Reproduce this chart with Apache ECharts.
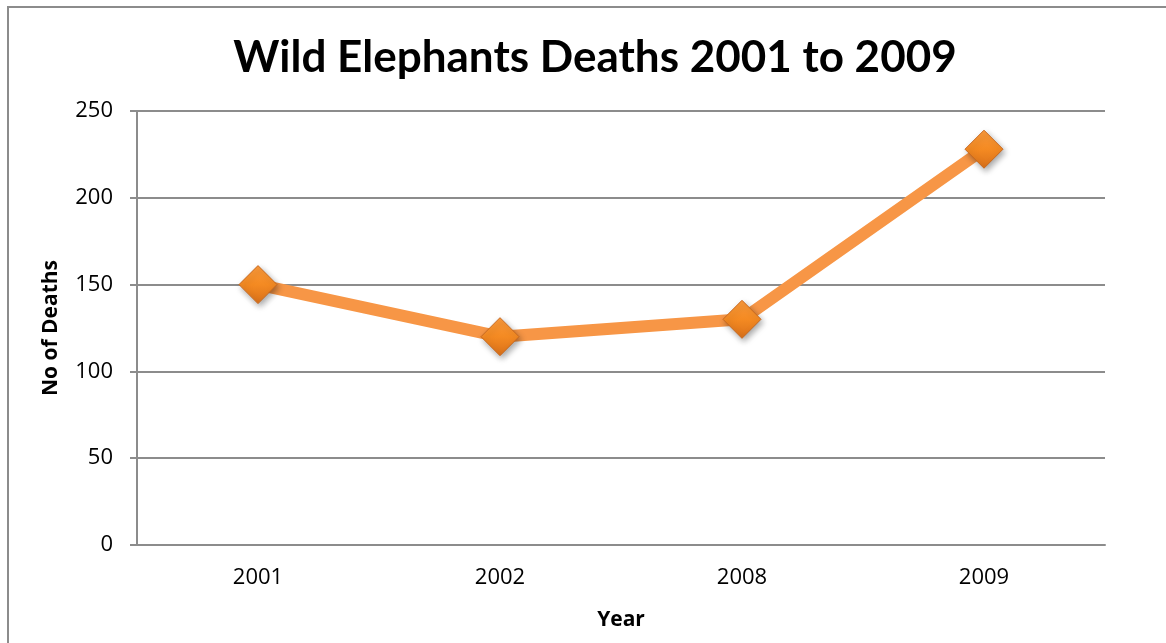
<!DOCTYPE html>
<html>
<head>
<meta charset="utf-8">
<script src="https://cdn.jsdelivr.net/npm/echarts@6/dist/echarts.min.js"></script>
<style>
  html, body { margin: 0; padding: 0; background: #fff; }
  #frame {
    position: absolute; left: 7px; top: 6px; width: 1170px; height: 650px;
    border-left: 2px solid #8c8c8c; border-top: 2px solid #8c8c8c;
  }
  #chart { position: absolute; left: 0; top: 0; width: 1166px; height: 643px; }
</style>
</head>
<body>
<div id="frame"></div>
<div id="chart"></div>
<script>
  const years = ['2001', '2002', '2008', '2009'];
  const deaths = [150, 120, 130, 228];
  const yTicks = { min: 0, max: 250, interval: 50 };

  const chart = echarts.init(document.getElementById('chart'));

  const option = {
    animation: false,
    title: {
      text: 'Wild Elephants Deaths 2001 to 2009',
      left: 590,
      top: 31,
      textAlign: 'center',
      textStyle: { fontFamily: 'Lato', fontWeight: 'bold', fontSize: 44, color: '#000' },
    },
    grid: { left: 137, right: 61, top: 111, bottom: 98 },
    xAxis: {
      type: 'category',
      data: years,
      boundaryGap: true,
      axisLine: { lineStyle: { color: '#8c8c8c', width: 2 } },
      axisTick: { show: false },
      axisLabel: { fontFamily: 'Open Sans', fontSize: 22, color: '#000', margin: 22 },
      name: 'Year',
      nameLocation: 'middle',
      nameGap: 65,
      nameTextStyle: { fontFamily: 'Open Sans', fontWeight: 'bold', fontSize: 21, color: '#000' },
    },
    yAxis: {
      type: 'value',
      min: yTicks.min,
      max: yTicks.max,
      interval: yTicks.interval,
      axisLine: { show: true, lineStyle: { color: '#8c8c8c', width: 2 } },
      axisTick: { show: true, length: 7, lineStyle: { color: '#8c8c8c', width: 2 } },
      splitLine: { lineStyle: { color: '#8c8c8c', width: 2 } },
      axisLabel: { fontFamily: 'Open Sans', fontSize: 22, color: '#000', margin: 24 },
      name: 'No of Deaths',
      nameLocation: 'middle',
      nameGap: 75,
      nameTextStyle: { fontFamily: 'Open Sans', fontWeight: 'bold', fontSize: 21, color: '#000' },
    },
    series: [
      {
        type: 'line',
        data: deaths,
        symbol: 'diamond',
        symbolSize: 38,
        lineStyle: { color: '#F79646', width: 12 },
        itemStyle: {
          color: new echarts.graphic.LinearGradient(0, 0, 0, 1, [
            { offset: 0, color: '#FA9A3C' },
            { offset: 0.5, color: '#F48A22' },
            { offset: 1, color: '#D9701A' },
          ]),
          borderColor: '#C8681E',
          borderWidth: 1,
          shadowColor: 'rgba(0,0,0,0.35)',
          shadowBlur: 6,
          shadowOffsetX: 2,
          shadowOffsetY: 3,
        },
      },
    ],
  };

  chart.setOption(option);
</script>
</body>
</html>
